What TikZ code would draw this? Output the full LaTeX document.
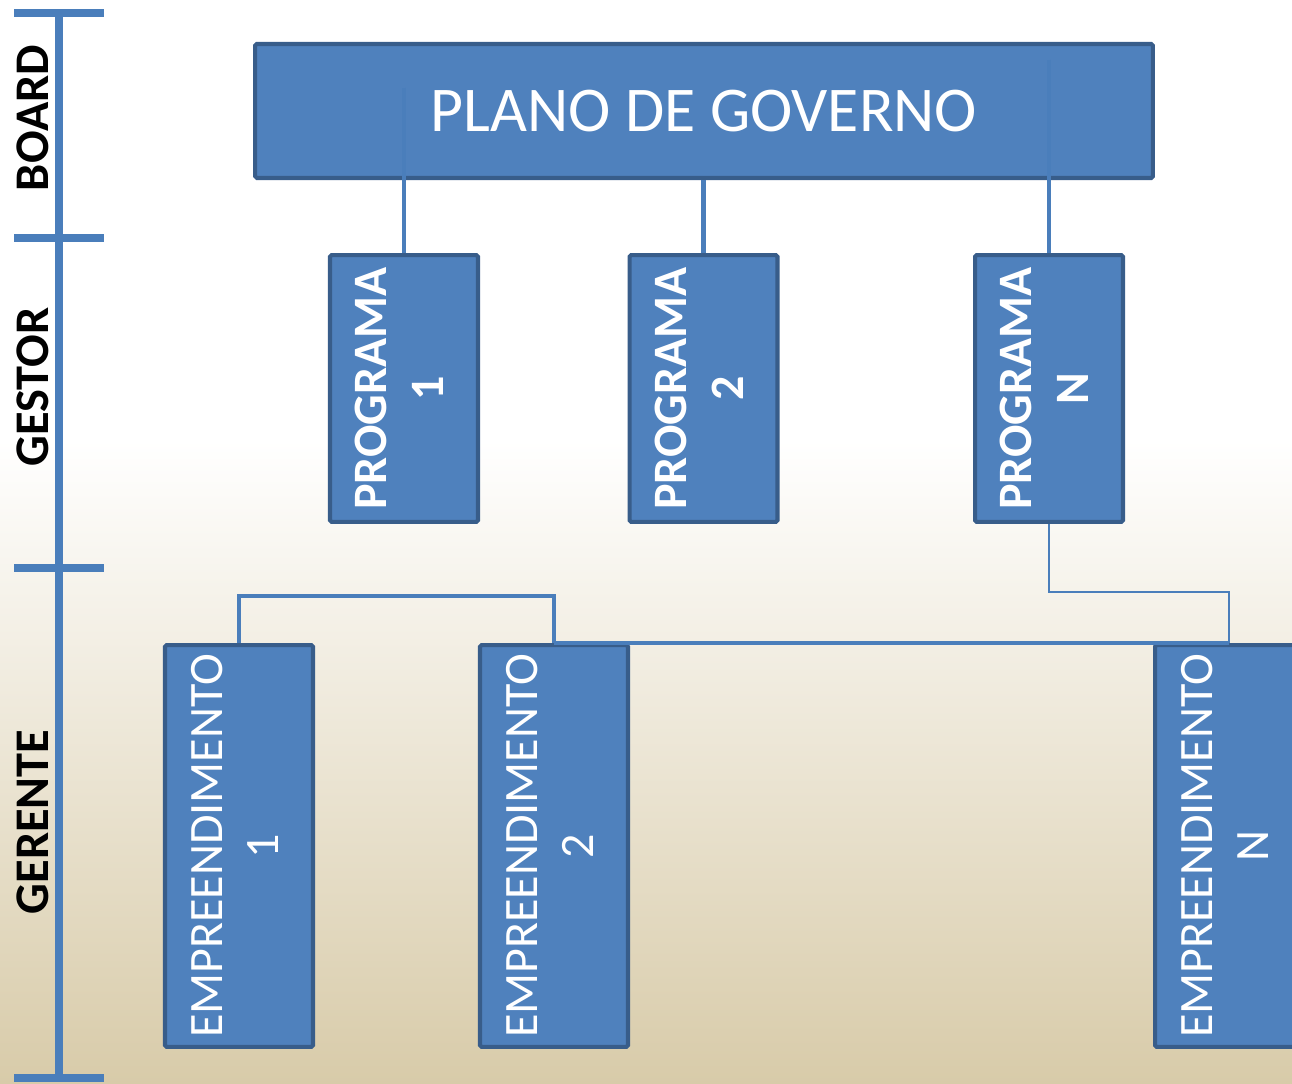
\documentclass[tikz,border=0pt]{standalone}
\usepackage{fontspec}
\setmainfont{Carlito}
\usepackage{graphicx}
\usetikzlibrary{calc}
\definecolor{boxblue}{RGB}{79, 129, 189}
\definecolor{boxedge}{RGB}{56, 93, 138}
\definecolor{linkblue}{RGB}{74, 126, 187}
\definecolor{sand}{RGB}{216, 203, 169}

\tikzset{
  planbox/.style={draw=boxedge, fill=boxblue, line width=2.3pt, rounded corners=1pt, text=white, inner sep=0pt, minimum width=17.96cm, minimum height=2.68cm, font=\fontsize{36.3}{43}\selectfont},
  progbox/.style={draw=boxedge, fill=boxblue, line width=2.3pt, rounded corners=1pt, text=white, inner sep=0pt, minimum width=2.96cm, minimum height=5.34cm, font=\fontsize{27.3}{32.3}\selectfont\bfseries},
  empbox/.style={draw=boxedge, fill=boxblue, line width=2.3pt, rounded corners=1pt, text=white, inner sep=0pt, minimum width=2.96cm, minimum height=8.04cm, font=\fontsize{27.3}{32}\selectfont},
  link/.style={draw=linkblue, line width=2.8pt},
  thinlink/.style={draw=linkblue, line width=1.1pt},
  levellabel/.style={rotate=90, inner sep=0pt, font=\fontsize{27.5}{32}\selectfont\bfseries}
}
\newcommand{\vlabel}[1]{\rotatebox{90}{\begin{tabular}{@{}c@{}}#1\end{tabular}}}

\begin{document}
\begin{tikzpicture}[x=0.02cm, y=-0.02cm]
  \useasboundingbox (0,0) rectangle (1292,1084);
  \clip (0,0) rectangle (1292,1084);

  % Background
  \fill[white] (0,0) rectangle (1292,440);
  \shade[top color=white, bottom color=sand] (0,440) rectangle (1292,1084);

  % Level scale
  \draw[linkblue, line width=5.1pt] (59,13) -- (59,1078);
  \foreach \y in {13, 238, 568, 1078}
    \draw[linkblue, line width=5.1pt] (14,\y) -- (104,\y);
  \node[levellabel] (board) at (33,118) {BOARD};
  \node[levellabel] (gestor) at (33,387) {GESTOR};
  \node[levellabel] (gerente) at (33,822) {GERENTE};

  % Boxes
  \node[planbox] (plano) at (704,111) {PLANO DE GOVERNO};
  \node[progbox] (prog1) at (404,388.5) {\vlabel{PROGRAMA\\1}};
  \node[progbox] (prog2) at (703.5,388.5) {\vlabel{PROGRAMA\\2}};
  \node[progbox] (progN) at (1049,388.5) {\vlabel{PROGRAMA\\N}};
  \node[empbox] (emp1) at (239,846) {\vlabel{EMPREENDIMENTO\\1}};
  \node[empbox] (emp2) at (554,846) {\vlabel{EMPREENDIMENTO\\2}};
  \node[empbox] (empN) at (1229,846) {\vlabel{EMPREENDIMENTO\\N}};

  % Connectors
  \coordinate (p1top) at (404,88);
  \coordinate (pNtop) at (1049,60);
  \coordinate (embar) at (0,596);
  \coordinate (nbar) at (0,592);
  \draw[link] (p1top) -- (prog1.north);
  \draw[link] (prog2.north |- plano.south) -- (prog2.north);
  \draw[link] (pNtop) -- (progN.north);
  \draw[link] (emp1.north) -- (emp1.north |- embar) -| (emp2.north);
  \draw[link] (emp2.north) -- (empN.north);
  \draw[thinlink] (progN.south) -- (progN.south |- nbar) -| (empN.north);
\end{tikzpicture}
\end{document}
